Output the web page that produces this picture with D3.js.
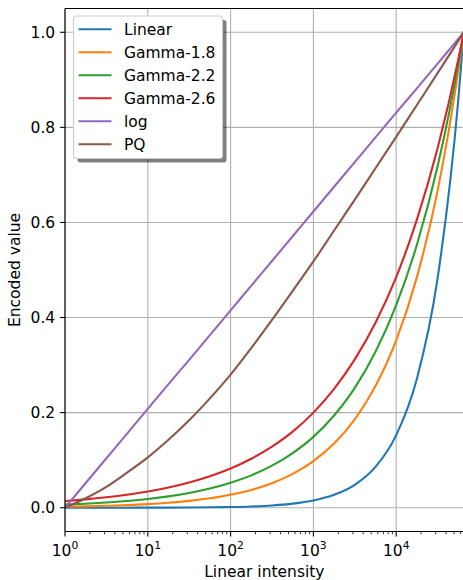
<!DOCTYPE html>
<html>
<head>
<meta charset="utf-8">
<script src="https://cdn.jsdelivr.net/npm/d3@7"></script>
<style>
  body { margin: 0; background: #fff; }
  text { font-family: "DejaVu Sans", sans-serif; fill: #000; }
</style>
</head>
<body>
<div id="chart"></div>
<script>
// sample positions (linear intensity), read at quarter decades
var intensity = [1, 1.778, 3.162, 5.623, 10, 17.78, 31.62, 56.23, 100, 177.8, 316.2, 562.3,
                 1000, 1778, 3162, 5623, 10000, 17783, 31623, 56234, 65535];

var linearVals = [0.00002, 0.00003, 0.00005, 0.00009, 0.00015, 0.00027, 0.00048, 0.00086, 0.00153, 0.00271, 0.00483, 0.00858,
                  0.01526, 0.02714, 0.04825, 0.0858, 0.1526, 0.2714, 0.4825, 0.8581, 1.0];
var gamma18 = [0.0021, 0.0029, 0.004, 0.0055, 0.0076, 0.0104, 0.0144, 0.0198, 0.0272, 0.0375, 0.0517, 0.0711,
               0.098, 0.135, 0.186, 0.256, 0.352, 0.485, 0.667, 0.919, 1.0];
var gamma22 = [0.0065, 0.0084, 0.0109, 0.0142, 0.0184, 0.0239, 0.0311, 0.0404, 0.0525, 0.0681, 0.0885, 0.115,
               0.149, 0.194, 0.252, 0.328, 0.426, 0.553, 0.718, 0.933, 1.0];
var gamma26 = [0.014, 0.0175, 0.0219, 0.0273, 0.034, 0.0425, 0.053, 0.0662, 0.0826, 0.103, 0.1285, 0.160,
               0.200, 0.250, 0.312, 0.389, 0.485, 0.606, 0.756, 0.943, 1.0];
var logVals = [0, 0.052, 0.104, 0.156, 0.208, 0.260, 0.311, 0.363, 0.415, 0.467, 0.519, 0.571,
               0.623, 0.675, 0.727, 0.779, 0.831, 0.882, 0.934, 0.986, 1.0];
var pqVals = [0, 0.02, 0.044, 0.074, 0.106, 0.143, 0.184, 0.23, 0.28, 0.336, 0.395, 0.456,
              0.518, 0.583, 0.648, 0.714, 0.78, 0.847, 0.914, 0.982, 1.0];

var seriesNames = ["Linear", "Gamma-1.8", "Gamma-2.2", "Gamma-2.6", "log", "PQ"];
var seriesVals = [linearVals, gamma18, gamma22, gamma26, logVals, pqVals];
var colors = ["#1f77b4", "#ff7f0e", "#2ca02c", "#d62728", "#9467bd", "#8c564b"];

var xMajor = [1, 10, 100, 1000, 10000];
var yTicks = [0, 0.2, 0.4, 0.6, 0.8, 1.0];

var W = 463, H = 580;
var pL = 65, pT = 8.5, pR = 463.8, pB = 531.5;
var fs = 15.5;

var svg = d3.select("#chart").append("svg")
    .attr("width", W).attr("height", H);

var x = d3.scaleLog().domain([1, 65535]).range([pL, pR]);
var y = d3.scaleLinear().domain([-0.05, 1.05]).range([pB, pT]);

// grid
var grid = svg.append("g").attr("stroke", "#b0b0b0").attr("stroke-width", 1.1);
xMajor.forEach(function(v) {
  grid.append("line").attr("x1", x(v)).attr("x2", x(v)).attr("y1", pT).attr("y2", pB);
});
yTicks.forEach(function(v) {
  grid.append("line").attr("x1", pL).attr("x2", pR).attr("y1", y(v)).attr("y2", y(v));
});

// lines
svg.append("clipPath").attr("id", "clip").append("rect")
    .attr("x", pL).attr("y", pT).attr("width", pR - pL).attr("height", pB - pT);

var line = d3.line()
    .x(function(d, i) { return x(intensity[i]); })
    .y(function(d) { return y(d); })
    .curve(d3.curveMonotoneX);

seriesVals.forEach(function(vals, k) {
  svg.append("path")
      .attr("clip-path", "url(#clip)")
      .attr("d", line(vals))
      .attr("fill", "none")
      .attr("stroke", colors[k])
      .attr("stroke-width", 2.1)
      .attr("stroke-linecap", "square");
});

// spines
var spines = svg.append("g").attr("stroke", "#000").attr("stroke-width", 1.1).attr("fill", "none");
spines.append("line").attr("x1", pL).attr("x2", pL).attr("y1", pT).attr("y2", pB);
spines.append("line").attr("x1", pL).attr("x2", pR).attr("y1", pT).attr("y2", pT);
spines.append("line").attr("x1", pL).attr("x2", pR).attr("y1", pB).attr("y2", pB);
spines.append("line").attr("x1", pR).attr("x2", pR).attr("y1", pT).attr("y2", pB);

// x axis ticks
var xMinor = [];
for (var dec = 1; dec <= 10000; dec *= 10) {
  for (var m = 2; m <= 9; m++) if (dec * m <= 65535) xMinor.push(dec * m);
}
var ax = svg.append("g");
xMajor.forEach(function(v, i) {
  ax.append("line").attr("x1", x(v)).attr("x2", x(v)).attr("y1", pB).attr("y2", pB + 4.9)
    .attr("stroke", "#000").attr("stroke-width", 1.1);
  var t = ax.append("text").attr("x", x(v)).attr("y", pB + 24)
    .attr("text-anchor", "middle").attr("font-size", fs);
  t.append("tspan").text("10");
  t.append("tspan").attr("dy", -6.5).attr("font-size", 10.8).text(i);
});
xMinor.forEach(function(v) {
  ax.append("line").attr("x1", x(v)).attr("x2", x(v)).attr("y1", pB).attr("y2", pB + 2.8)
    .attr("stroke", "#000").attr("stroke-width", 0.8);
});

// y axis ticks
yTicks.forEach(function(v) {
  svg.append("line").attr("x1", pL - 4.9).attr("x2", pL).attr("y1", y(v)).attr("y2", y(v))
    .attr("stroke", "#000").attr("stroke-width", 1.1);
  svg.append("text").attr("x", pL - 9.8).attr("y", y(v)).attr("dy", "0.36em")
    .attr("text-anchor", "end").attr("font-size", fs).text(v.toFixed(1));
});

// axis labels
svg.append("text").attr("x", (pL + pR) / 2).attr("y", 576.5)
    .attr("text-anchor", "middle").attr("font-size", fs).text("Linear intensity");
svg.append("text")
    .attr("transform", "translate(20," + ((pT + pB) / 2) + ") rotate(-90)")
    .attr("text-anchor", "middle").attr("font-size", fs).text("Encoded value");

// legend
var lg = svg.append("g");
lg.append("rect").attr("x", 77.5).attr("y", 20).attr("width", 149).attr("height", 142.5)
    .attr("rx", 3).attr("fill", "#000").attr("fill-opacity", 0.5);
lg.append("rect").attr("x", 73.5).attr("y", 16).attr("width", 149).attr("height", 142.5)
    .attr("rx", 3).attr("fill", "#fff").attr("stroke", "#cccccc").attr("stroke-width", 1.1);
seriesNames.forEach(function(name, k) {
  var yy = 29.3 + k * 23;
  lg.append("line").attr("x1", 78.5).attr("x2", 111.5).attr("y1", yy).attr("y2", yy)
    .attr("stroke", colors[k]).attr("stroke-width", 2.1);
  lg.append("text").attr("x", 124).attr("y", yy).attr("dy", "0.36em")
    .attr("font-size", fs).text(name);
});
</script>
</body>
</html>
